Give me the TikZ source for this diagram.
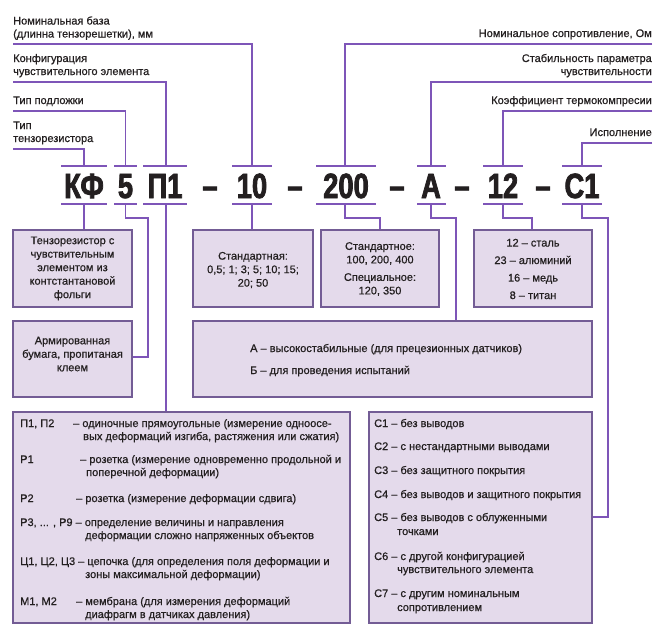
\documentclass[tikz,border=0pt]{standalone}
\usepackage{fontspec}
\setmainfont{Liberation Sans}[FakeBold=0.6]
\newfontfamily\codefont{Liberation Sans}[FakeStretch=0.78,FakeBold=2.2]
\definecolor{ln}{HTML}{7E55B8}
\definecolor{bx}{HTML}{735C95}
\definecolor{bf}{HTML}{E4DAEB}
\definecolor{tx}{HTML}{231F20}
\begin{document}
\begin{tikzpicture}[x=1pt,y=-1pt,
  conn/.style={draw=ln,line width=1.6pt},
  bar/.style={draw=ln,line width=1.6pt},
  box/.style={draw=bx,fill=bf,line width=1.6pt,rectangle,inner sep=0pt},
  lab/.style={text=tx,font=\fontsize{11}{13}\selectfont,inner sep=0pt},
  btx/.style={text=tx,font=\fontsize{11}{13.5}\selectfont,inner sep=0pt,align=center},
  ltx/.style={text=tx,font=\fontsize{11}{13}\selectfont,inner sep=0pt,anchor=base west},
  code/.style={text=tx,font=\codefont\bfseries\fontsize{35}{35}\selectfont,inner sep=0pt,anchor=base}
]
\useasboundingbox (0,0) rectangle (660,637);
\fill[white] (0,0) rectangle (660,637);

% ---- code line ----
\node[code] (kf) at (84,198) {КФ};
\node[code] (c5) at (125.5,198) {5};
\node[code] (p1) at (165,198) {П1};
\node[code] (d1) at (210,198) {–};
\node[code] (c10) at (252,198) {10};
\node[code] (d2) at (295,198) {–};
\node[code] (c200) at (346,198) {200};
\node[code] (d3) at (397,198) {–};
\node[code] (ca) at (431,198) {А};
\node[code] (d4) at (462,198) {–};
\node[code] (c12) at (503,198) {12};
\node[code] (d5) at (543,198) {–};
\node[code] (c1) at (582,198) {С1};

% bars
\foreach \a/\b in {61/107,114/137,143/187,232/272,316/376,417/446,483/523,562/602}{
  \draw[bar] (\a,166) -- (\b,166);
  \draw[bar] (\a,204) -- (\b,204);
}

% ---- top labels ----
\node[lab,anchor=base west] (t1a) at (13,24.5) {Номинальная база};
\node[lab,anchor=base west] (t1b) at (13,37.5) {(длинна тензорешетки), мм};
\node[lab,anchor=base west] (t2a) at (13,62) {Конфигурация};
\node[lab,anchor=base west] (t2b) at (13,75) {чувствительного элемента};
\node[lab,anchor=base west] (t3) at (13,104) {Тип подложки};
\node[lab,anchor=base west] (t4a) at (13,129) {Тип};
\node[lab,anchor=base west] (t4b) at (13,142) {тензорезистора};

\node[lab,anchor=base east] (r1) at (652,37) {Номинальное сопротивление, Ом};
\node[lab,anchor=base east] (r2a) at (652,62) {Стабильность параметра};
\node[lab,anchor=base east] (r2b) at (652,75) {чувствительности};
\node[lab,anchor=base east] (r3) at (652,104) {Коэффициент термокомпресии};
\node[lab,anchor=base east] (r4) at (652,136) {Исполнение};

\draw[conn] (13,44) -- (252,44) -- (252,166);
\draw[conn] (13,82) -- (166,82) -- (166,166);
\draw[conn] (13,111) -- (125.5,111) -- (125.5,166);
\draw[conn] (13,149) -- (84,149) -- (84,166);
\draw[conn] (652,44) -- (345,44) -- (345,166);
\draw[conn] (652,82) -- (431,82) -- (431,166);
\draw[conn] (652,111) -- (503,111) -- (503,166);
\draw[conn] (652,143) -- (582,143) -- (582,166);

% ---- boxes ----
\node[box,minimum width=119pt,minimum height=77pt] (b1) at (72.5,268.5) {};
\node[btx] at (b1) {Тензорезистор с\\чувствительным\\элементом из\\контстантановой\\фольги};
\node[box,minimum width=119pt,minimum height=76pt] (b2) at (72.5,359) {};
\node[btx] at (72.5,354) {Армированная\\бумага, пропитаная\\клеем};
\node[box,minimum width=120pt,minimum height=77pt] (b3) at (253,268.5) {};
\node[btx] at (253,270) {Стандартная:\\0,5; 1; 3; 5; 10; 15;\\20; 50};
\node[box,minimum width=118pt,minimum height=77pt] (b4) at (380,268.5) {};
\node[btx] at (380,269) {Стандартное:\\100, 200, 400\\[4pt]Специальное:\\120, 350};
\node[box,minimum width=118pt,minimum height=77pt] (b5) at (533,268.5) {};
\node[btx] at (533,269) {12 – сталь\\[4pt]23 – алюминий\\[4pt]16 – медь\\[4pt]8 – титан};
\node[box,minimum width=399pt,minimum height=76pt] (b6) at (392.5,359) {};
\node[ltx] (ab1) at (250,352) {А – высокостабильные (для прецезионных датчиков)};
\node[ltx] (ab2) at (250,374) {Б – для проведения испытаний};

\node[box,minimum width=337pt,minimum height=211pt] (b7) at (181.5,517.5) {};
\node[ltx] at (20,427) {П1, П2};
\node[ltx] at (73,427) {– одиночные прямоугольные (измерение одноосе-};
\node[ltx] at (83,440) {вых деформаций изгиба, растяжения или сжатия)};
\node[ltx] at (20,463) {Р1};
\node[ltx] at (80,463) {– розетка (измерение одновременно продольной и};
\node[ltx] at (86,476) {поперечной деформации)};
\node[ltx] at (20,502) {Р2};
\node[ltx] at (76,502) {– розетка (измерение деформации сдвига)};
\node[ltx] at (20,526) {Р3, ... , Р9 – определение величины и направления};
\node[ltx] at (85,539) {деформации сложно напряженных объектов};
\node[ltx] at (20,565) {Ц1, Ц2, Ц3 – цепочка (для определения поля деформации и};
\node[ltx] at (85,578) {зоны максимальной деформации)};
\node[ltx] at (20,605) {М1, М2};
\node[ltx] at (76,605) {– мембрана (для измерения деформаций};
\node[ltx] at (85,618) {диафрагм в датчиках давления)};

\node[box,minimum width=223pt,minimum height=211pt] (b8) at (480.5,517.5) {};
\node[ltx] at (374,427) {С1 – без выводов};
\node[ltx] at (374,450) {С2 – с нестандартными выводами};
\node[ltx] at (374,474) {С3 – без защитного покрытия};
\node[ltx] at (374,498) {С4 – без выводов и защитного покрытия};
\node[ltx] at (374,521) {С5 – без выводов с облуженными};
\node[ltx] at (397,535) {точками};
\node[ltx] at (374,560) {С6 – с другой конфигурацией};
\node[ltx] at (397,573) {чувствительного элемента};
\node[ltx] at (374,597) {С7 – с другим номинальным};
\node[ltx] at (397,611) {сопротивлением};

% ---- lower connectors ----
\draw[conn] (84,204) -- (b1.north -| 84,0);
\draw[conn] (125.5,204) -- (125.5,218) -- (148,218) -- (148,357) -- (b2.east |- 0,357);
\draw[conn] (166,204) -- (b7.north -| 166,0);
\draw[conn] (252,204) -- (b3.north -| 252,0);
\draw[conn] (345,204) -- (345,218) -- (380,218) -- (b4.north);
\draw[conn] (431,204) -- (431,218) -- (456,218) -- (b6.north -| 456,0);
\draw[conn] (503,204) -- (503,218) -- (532,218) -- (b5.north -| 532,0);
\draw[conn] (582,204) -- (582,218) -- (608,218) -- (608,517) -- (b8.east |- 0,517);
\end{tikzpicture}
\end{document}
